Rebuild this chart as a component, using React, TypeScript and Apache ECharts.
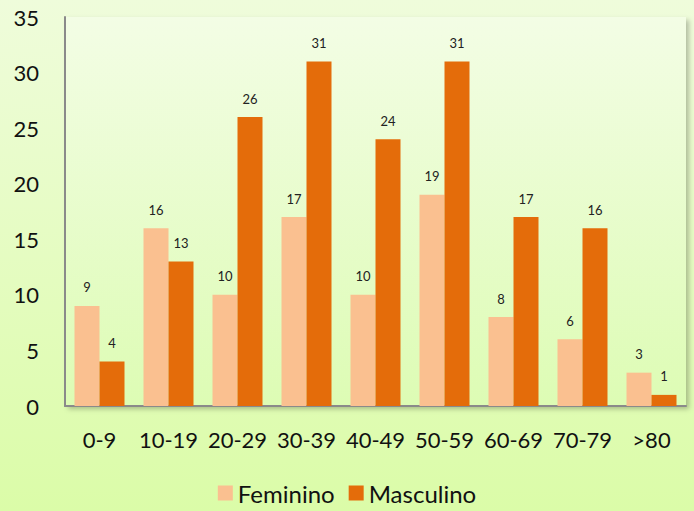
import React, { useEffect, useRef } from "react";
import * as echarts from "echarts";

const categories = ["0-9", "10-19", "20-29", "30-39", "40-49", "50-59", "60-69", "70-79", ">80"];
const feminino = [9, 16, 10, 17, 10, 19, 8, 6, 3];
const masculino = [4, 13, 26, 31, 24, 31, 17, 16, 1];
const seriesNames = ["Feminino", "Masculino"];

export default function App() {
  const ref = useRef<HTMLDivElement>(null);
  useEffect(() => {
    document.body.style.margin = "0";
    const chart = echarts.init(ref.current!, null, { renderer: "svg" });
    const font = "Lato, 'Open Sans', sans-serif";
    chart.setOption({
      animation: false,
      backgroundColor: new echarts.graphic.LinearGradient(0, 0, 0, 1, [
        { offset: 0, color: "#effcdb" },
        { offset: 1, color: "#dbfca8" },
      ]),
      grid: {
        left: 65,
        right: 8,
        top: 17,
        bottom: 105,
        show: true,
        borderWidth: 0,
        backgroundColor: new echarts.graphic.LinearGradient(0, 0, 0, 1, [
          { offset: 0, color: "#f3fde5" },
          { offset: 1, color: "#ddfcb4" },
        ]),
        shadowColor: "rgba(0,0,0,0.25)",
        shadowBlur: 5,
        shadowOffsetX: 3,
        shadowOffsetY: 3,
      },
      legend: {
        bottom: 1,
        left: "center",
        itemWidth: 15,
        itemHeight: 15,
        itemGap: 14,
        icon: "rect",
        textStyle: { fontSize: 24, color: "#111", fontFamily: font },
        data: seriesNames,
      },
      xAxis: {
        type: "category",
        data: categories,
        axisLine: { lineStyle: { color: "#8a8a8a", width: 2 } },
        axisTick: { show: false },
        axisLabel: { interval: 0, fontSize: 22, color: "#111", margin: 22, fontFamily: font },
      },
      yAxis: {
        type: "value",
        min: 0,
        max: 35,
        interval: 5,
        axisLine: { show: true, lineStyle: { color: "#8a8a8a", width: 2 } },
        axisTick: { show: false },
        splitLine: { show: false },
        axisLabel: { fontSize: 22, color: "#111", margin: 26, fontFamily: font },
      },
      series: [
        {
          name: seriesNames[0],
          type: "bar",
          data: feminino,
          barWidth: 25,
          barGap: "0%",
          itemStyle: { color: "#fac090" },
          label: { show: true, position: "top", distance: 12, fontSize: 13, color: "#222", fontFamily: font },
        },
        {
          name: seriesNames[1],
          type: "bar",
          data: masculino,
          barWidth: 25,
          barGap: "0%",
          itemStyle: { color: "#e46c0a" },
          label: { show: true, position: "top", distance: 12, fontSize: 13, color: "#222", fontFamily: font },
        },
      ],
    });
    return () => chart.dispose();
  }, []);
  return <div ref={ref} style={{ width: 694, height: 511 }} />;
}
